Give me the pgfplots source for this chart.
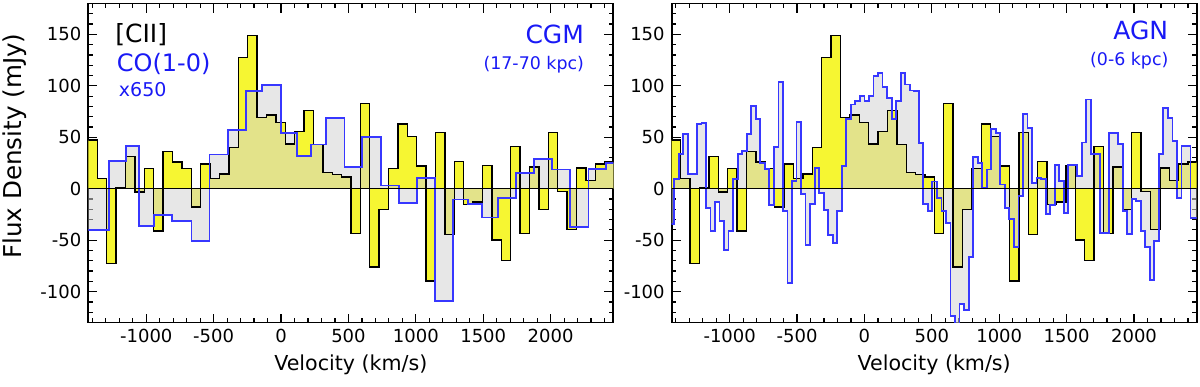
\documentclass[border=0pt]{standalone}
\usepackage{fontspec}
\setmainfont{DejaVu Sans}
\usepackage{pgfplots}
\usepackage{pgfplotstable}
\pgfplotsset{compat=1.18}

\definecolor{ciiyel}{RGB}{246,246,50}
\definecolor{cogray}{RGB}{212,212,212}
\definecolor{coblue}{RGB}{55,55,255}
\definecolor{txtblue}{RGB}{25,25,245}

% [CII] spectrum (same in both panels): bin left edge, flux
\pgfplotstableread{
v f
-1432.7 47.4
-1363.0 9.7
-1293.3 -72.6
-1223.6 1
-1153.9 31.3
-1084.2 -3.3
-1014.5 19.4
-944.8 -41
-875.1 36.4
-805.4 25.8
-735.7 19.4
-666.0 -17.8
-596.3 24.2
-526.6 9.7
-456.9 14.5
-387.2 40.3
-317.5 127.4
-247.8 149
-178.1 69.3
-108.4 71.6
-38.7 64.5
31.0 43.5
100.7 55.8
170.4 75.8
240.1 42.9
309.8 15.5
379.5 13.9
449.2 11.3
518.9 -43.6
588.6 82.9
658.3 -75.9
728.0 -20.3
797.7 19.4
867.4 62.9
937.1 50.9
1006.8 21.9
1076.5 -89.7
1146.2 54.8
1215.9 -44.5
1285.6 26.7
1355.3 -15.2
1425.0 -13
1494.7 22.6
1564.4 -50
1634.1 -70
1703.8 41.3
1773.5 -43.6
1843.2 21
1912.9 -20
1982.6 54.8
2052.3 -2.6
2122.0 -39.7
2191.7 20.3
2261.4 8
2331.1 23.9
2400.8 26
2470.5 26
}\ciitab

% CO(1-0) x650, CGM (17-70 kpc)
\pgfplotstableread{
v f
-1440 -40.4
-1277 26.7
-1153 41.3
-1055 -36.5
-944 -25.8
-808 -31.3
-665 -50.7
-531 33.2
-393 57.4
-260 95.2
-141 100.6
1 53.8
118 31.6
221 42.9
335 68.4
470 21.3
603 50.6
739 3.2
875 -13.6
1010 10.3
1141 -109
1277 -10.4
1388 -14.5
1492 -28
1610 -9
1746 15.5
1876 29
2010 18.7
2146 -37.1
2281 19.4
2412 25.2
2480 25.2
}\cgmtab

% CO(1-0) x650, AGN (0-6 kpc)
\pgfplotstableread{
v f
-1444.8 -34.6
-1411.2 9.4
-1377.6 33.4
-1344.0 53.4
-1310.4 14.6
-1276.8 14.6
-1243.2 62.6
-1209.6 63.5
-1176.0 -18.4
-1142.4 -41.1
-1108.8 -12.9
-1075.2 -31.4
-1041.6 -59.8
-1008.0 -41.1
-974.4 9.1
-940.8 34
-907.2 36.6
-873.6 52.8
-840.0 80.3
-806.4 67.4
-772.8 25.2
-739.2 18.8
-705.6 -15.8
-672.0 40.8
-638.4 103.9
-604.8 -21.6
-571.2 -91.3
-537.6 7.4
-504.0 65
-470.4 -4.8
-436.8 -55
-403.2 -15.2
-369.6 19.8
-336.0 -4
-302.4 -20.3
-268.8 -44.6
-235.2 -52.7
-201.6 -21.6
-168.0 22
-134.4 67.4
-100.8 81.9
-67.2 85.1
-33.6 90
0.0 85.1
33.6 90
67.2 109.4
100.8 112.6
134.4 98.7
168.0 88.4
201.6 67.4
235.2 85.1
268.8 112.6
302.4 101.3
336.0 95.5
369.6 94.8
403.2 44.7
436.8 -14.5
470.4 -21.7
504.0 7.1
537.6 -8.9
571.2 -21.9
604.8 -33.2
638.4 -123.6
672.0 -145
705.6 -112
739.2 -118
772.8 -66.2
806.4 30.7
840.0 25.2
873.6 0.9
907.2 18.7
940.8 58.3
974.4 54.4
1008.0 4.2
1041.6 -18.4
1075.2 -29.7
1108.8 -56.6
1142.4 -7.4
1176.0 72.8
1209.6 59.2
1243.2 5.8
1276.8 10.7
1310.4 9.1
1344.0 -24.9
1377.6 -15.8
1411.2 22.7
1444.8 7.4
1478.4 -23.3
1512.0 22.7
1545.6 22.7
1579.2 12.3
1612.8 45
1646.4 86.8
1680.0 34
1713.6 34
1747.2 -42.7
1780.8 -42.7
1814.4 54.4
1848.0 54.4
1881.6 43.7
1915.2 -21.6
1948.8 -44.3
1982.4 -10.2
2016.0 -11.8
2049.6 -41
2083.2 -57
2116.8 -89
2150.4 -50.7
2184.0 34
2217.6 78.8
2251.2 69
2284.8 46
2318.4 -8.7
2352.0 41.5
2385.6 41.5
2419.2 -28.8
2452.8 -28.8
2486.4 -28.8
}\agntab

\pgfplotsset{spec/.style={
  scale only axis, width=262.5pt, height=159.5pt,
  xmin=-1430, xmax=2465, ymin=-130, ymax=180,
  xtick={-1000,-500,0,500,1000,1500,2000},
  xticklabels={-1000,-500,0,500,1000,1500,2000},
  minor xtick={-1400,-1300,...,2400},
  ytick={-100,-50,0,50,100,150},
  yticklabels={-100,-50,0,50,100,150},
  minor ytick={-120,-110,...,170},
  tick align=inside, xtick pos=both, ytick pos=both,
  major tick length=4.5pt, minor tick length=2.2pt,
  tick style={black, line width=0.6pt},
  axis line style={line width=0.9pt},
  tick label style={font=\fontsize{9}{9}\selectfont},
  xlabel style={font=\fontsize{10.3}{10.3}\selectfont, yshift=1pt},
  ylabel style={font=\fontsize{12.3}{12.3}\selectfont, at={(ticklabel cs:0.553)}},
  xlabel={Velocity (km/s)},
}}

\begin{document}
\begin{tikzpicture}
\begin{axis}[spec, at={(0pt,0pt)}, anchor=south west,
  ylabel={Flux Density (mJy)}]
\addplot[const plot, fill=ciiyel, draw=none] table[x=v,y=f]{\ciitab} \closedcycle;
\addplot[const plot, fill=cogray, fill opacity=0.55, draw=none] table[x=v,y=f]{\cgmtab} \closedcycle;
\addplot[const plot, black, line width=0.7pt] table[x=v,y=f]{\ciitab};
\addplot[const plot, coblue, line width=0.9pt] table[x=v,y=f]{\cgmtab};
\draw[black, line width=0.6pt] (axis cs:-1430,0) -- (axis cs:2465,0);
\node[anchor=base west, font=\fontsize{12.5}{12.5}\selectfont] at (rel axis cs:0.038,0.877) {[CII]};
\node[anchor=base west, text=txtblue, font=\fontsize{12}{12}\selectfont] at (rel axis cs:0.041,0.786) {CO(1-0)};
\node[anchor=base west, text=txtblue, font=\fontsize{9.5}{9.5}\selectfont] at (rel axis cs:0.045,0.708) {x650};
\node[anchor=base east, text=txtblue, font=\fontsize{12.5}{12.5}\selectfont] at (rel axis cs:0.9575,0.875) {CGM};
\node[anchor=base east, text=txtblue, font=\fontsize{8.7}{8.7}\selectfont] at (rel axis cs:0.9575,0.794) {(17-70 kpc)};
\end{axis}
\begin{axis}[spec, at={(291.7pt,0pt)}, anchor=south west]
\addplot[const plot, fill=ciiyel, draw=none] table[x=v,y=f]{\ciitab} \closedcycle;
\addplot[const plot, fill=cogray, fill opacity=0.55, draw=none] table[x=v,y=f]{\agntab} \closedcycle;
\addplot[const plot, black, line width=0.7pt] table[x=v,y=f]{\ciitab};
\addplot[const plot, coblue, line width=0.9pt] table[x=v,y=f]{\agntab};
\draw[black, line width=0.6pt] (axis cs:-1430,0) -- (axis cs:2465,0);
\node[anchor=base east, text=txtblue, font=\fontsize{12.5}{12.5}\selectfont] at (rel axis cs:0.959,0.888) {AGN};
\node[anchor=base east, text=txtblue, font=\fontsize{8.7}{8.7}\selectfont] at (rel axis cs:0.9595,0.805) {(0-6 kpc)};
\end{axis}
\pgfresetboundingbox
\useasboundingbox (-44.15pt,-31.75pt) rectangle (555.85pt,161.25pt);
\end{tikzpicture}
\end{document}
